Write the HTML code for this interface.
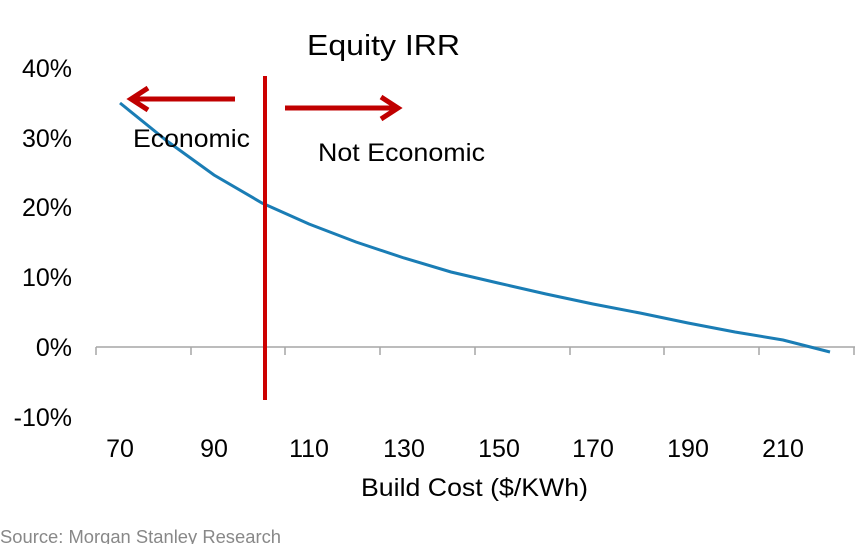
<!DOCTYPE html>
<html><head><style>body{margin:0;background:#fff}svg{display:block}text{font-family:"Liberation Sans",sans-serif}</style></head>
<body>
<svg width="865" height="544" viewBox="0 0 865 544">
<text x="307" y="55" font-size="29" textLength="153" lengthAdjust="spacingAndGlyphs" fill="#000">Equity IRR</text>
<g font-size="25" text-anchor="end" fill="#000">
<text x="72" y="77">40%</text>
<text x="72" y="147">30%</text>
<text x="72" y="216">20%</text>
<text x="72" y="286">10%</text>
<text x="72" y="356">0%</text>
<text x="72" y="426">-10%</text>
</g>
<g stroke="#a6a6a6" stroke-width="1.5" fill="none">
<line x1="96" y1="347" x2="855" y2="347"/>
<path d="M96 347v8M191 347v8M285 347v8M380 347v8M475 347v8M570 347v8M664 347v8M759 347v8M854 347v8"/>
</g>
<g font-size="25" text-anchor="middle" fill="#000">
<text x="120" y="457">70</text><text x="214" y="457">90</text><text x="309" y="457">110</text><text x="404" y="457">130</text><text x="499" y="457">150</text><text x="593" y="457">170</text><text x="688" y="457">190</text><text x="783" y="457">210</text>
</g>
<text x="361" y="496" font-size="25" textLength="227" lengthAdjust="spacingAndGlyphs" fill="#000">Build Cost ($/KWh)</text>
<text x="0" y="543" font-size="18" textLength="281" lengthAdjust="spacingAndGlyphs" fill="#888">Source: Morgan Stanley Research</text>
<polyline fill="none" stroke="#1a7db5" stroke-width="3" points="120,103 167,141 214,175 262,203 309,224 356,242 404,258 451,272 498,283 546,294 593,304 640,313 688,323 735,332 783,340 830,352"/>
<line x1="265" y1="76" x2="265" y2="400" stroke="#cc0000" stroke-width="4"/>
<g stroke="#c00000" stroke-width="5" fill="none">
<line x1="235" y1="99" x2="132" y2="99"/><polyline points="148,88 131,99 148,110"/>
<line x1="285" y1="108" x2="396" y2="108"/><polyline points="381,97 398,108 381,119"/>
</g>
<text x="133" y="147" font-size="25" textLength="117" lengthAdjust="spacingAndGlyphs" fill="#000">Economic</text>
<text x="318" y="161" font-size="25" textLength="167" lengthAdjust="spacingAndGlyphs" fill="#000">Not Economic</text>
</svg>
</body></html>
